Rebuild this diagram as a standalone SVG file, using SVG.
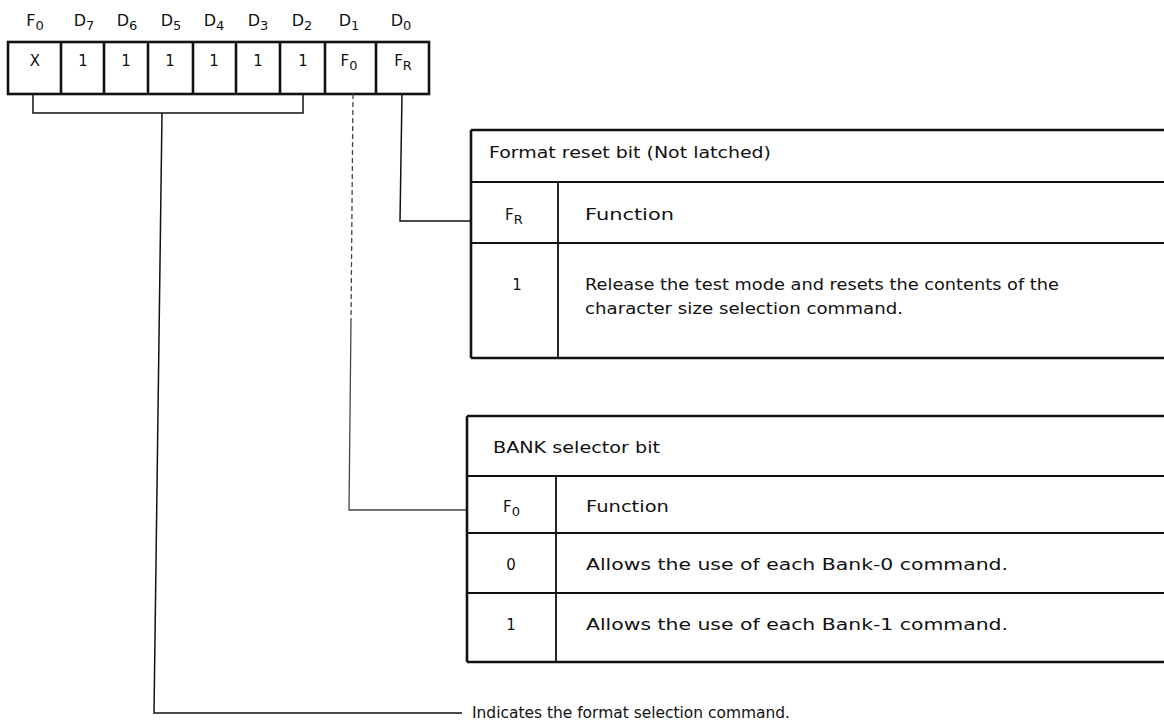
<svg xmlns="http://www.w3.org/2000/svg" width="1164" height="725" viewBox="0 0 1164 725">
<style>
text{font-family:"DejaVu Sans","Liberation Sans",sans-serif;font-size:15px;fill:#111}
.c{text-anchor:middle}
.sub{font-size:13px}
.lb{font-size:16px}
.reg{fill:none;stroke:#111;stroke-width:2.6}
.tb{fill:none;stroke:#111;stroke-width:2.6}
.tn{fill:none;stroke:#111;stroke-width:1.8}
.cn{fill:none;stroke:#111;stroke-width:1.5}
.dl{fill:none;stroke:#444;stroke-width:1.3}
</style>
<rect width="1164" height="725" fill="#fff"/>
<g id="register">
<g id="bit-labels">
<text class="c lb" x="35" y="26">F<tspan class="sub" dy="4">0</tspan></text>
<text class="c lb" x="84" y="26">D<tspan class="sub" dy="4">7</tspan></text>
<text class="c lb" x="127" y="26">D<tspan class="sub" dy="4">6</tspan></text>
<text class="c lb" x="171" y="26">D<tspan class="sub" dy="4">5</tspan></text>
<text class="c lb" x="214" y="26">D<tspan class="sub" dy="4">4</tspan></text>
<text class="c lb" x="258" y="26">D<tspan class="sub" dy="4">3</tspan></text>
<text class="c lb" x="302" y="26">D<tspan class="sub" dy="4">2</tspan></text>
<text class="c lb" x="349" y="26">D<tspan class="sub" dy="4">1</tspan></text>
<text class="c lb" x="401" y="26">D<tspan class="sub" dy="4">0</tspan></text>
</g>
<rect class="reg" x="8" y="42" width="421" height="52"/>
<path class="reg" d="M61,42V94M104,42V94M148,42V94M193,42V94M236,42V94M280,42V94M325,42V94M376,42V94"/>
<text class="c" x="35" y="66">X</text>
<text class="c" x="83" y="66">1</text>
<text class="c" x="126" y="66">1</text>
<text class="c" x="170" y="66">1</text>
<text class="c" x="214" y="66">1</text>
<text class="c" x="258" y="66">1</text>
<text class="c" x="303" y="66">1</text>
<text class="c" x="349" y="66">F<tspan class="sub" dy="4">0</tspan></text>
<text class="c" x="403" y="66">F<tspan class="sub" dy="4">R</tspan></text>
</g>
<g id="connectors">
<polyline class="cn" points="33,94 33,113 303,113 303,94"/>
<polyline class="cn" points="162,113 154,713 462,713"/>
<line class="dl" x1="353" y1="94" x2="351" y2="320" stroke-dasharray="5 3"/>
<polyline class="dl" points="351,320 349,510 467,510"/>
<polyline class="cn" points="402,94 400,221 471,221"/>
</g>
<g id="table-format-reset">
<path class="tb" d="M471,130H1164M471,130V358M471,358H1164"/>
<path class="tn" d="M471,182H1164M471,243H1164M558,182V358"/>
<text x="489" y="158" textLength="282" lengthAdjust="spacingAndGlyphs">Format reset bit (Not latched)</text>
<text x="505" y="220">F<tspan class="sub" dy="4">R</tspan></text>
<text x="585" y="220" textLength="89" lengthAdjust="spacingAndGlyphs">Function</text>
<text class="c" x="517" y="290">1</text>
<text x="585" y="290" textLength="474" lengthAdjust="spacingAndGlyphs">Release the test mode and resets the contents of the</text>
<text x="585" y="314" textLength="318" lengthAdjust="spacingAndGlyphs">character size selection command.</text>
</g>
<g id="table-bank-selector">
<path class="tb" d="M467,416H1164M467,416V662M467,662H1164"/>
<path class="tn" d="M467,476H1164M467,533H1164M467,593H1164M556,476V662"/>
<text x="493" y="453" textLength="167" lengthAdjust="spacingAndGlyphs">BANK selector bit</text>
<text x="503" y="512">F<tspan class="sub" dy="4">0</tspan></text>
<text x="586" y="512" textLength="83" lengthAdjust="spacingAndGlyphs">Function</text>
<text class="c" x="511" y="570">0</text>
<text x="586" y="570" textLength="422" lengthAdjust="spacingAndGlyphs">Allows the use of each Bank-0 command.</text>
<text class="c" x="511" y="630">1</text>
<text x="586" y="630" textLength="422" lengthAdjust="spacingAndGlyphs">Allows the use of each Bank-1 command.</text>
</g>
<g id="note-format-selection">
<text x="472" y="718" textLength="318" lengthAdjust="spacingAndGlyphs">Indicates the format selection command.</text>
</g>
</svg>
